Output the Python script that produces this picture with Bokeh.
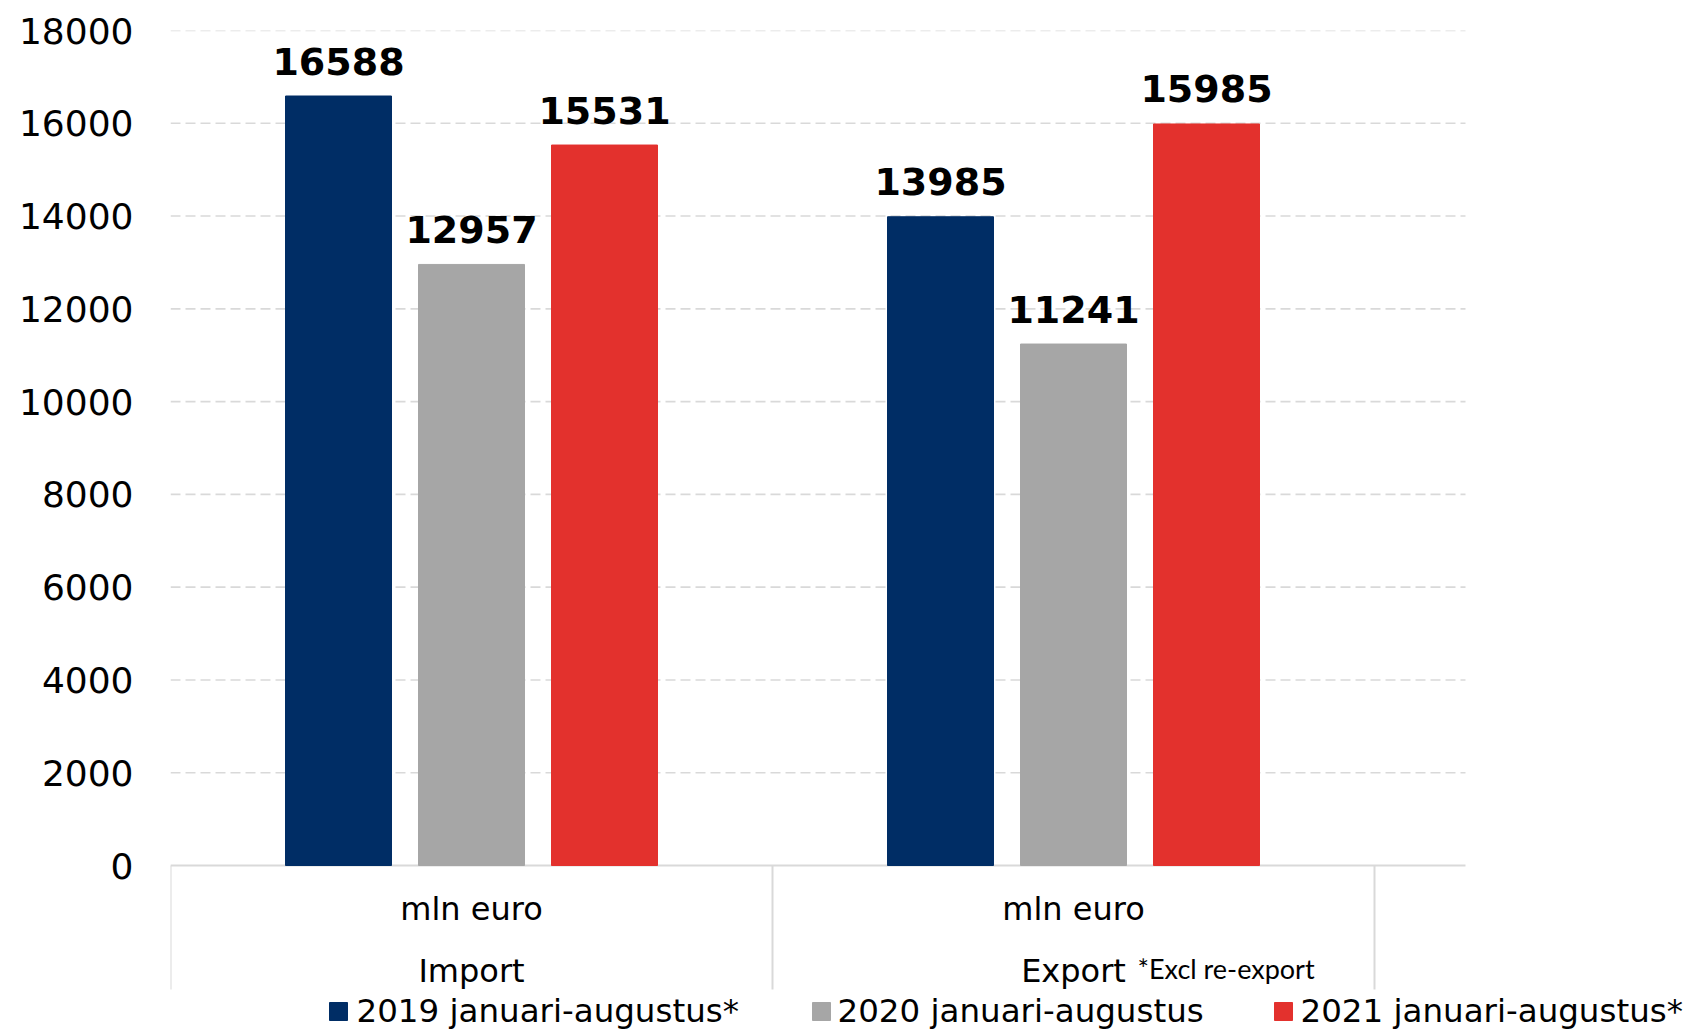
from bokeh.plotting import figure
from bokeh.models import Range1d, FixedTicker, ColumnDataSource
from bokeh.core.properties import value
from bokeh.embed import file_html
from bokeh.resources import INLINE

# ---- data ----
categories = ["Import", "Export"]
sub_label = "mln euro"
series_names = ["2019 januari-augustus*", "2020 januari-augustus", "2021 januari-augustus*"]
values_2019 = [16588, 13985]
values_2020 = [12957, 11241]
values_2021 = [15531, 15985]
y_ticks = [0, 2000, 4000, 6000, 8000, 10000, 12000, 14000, 16000, 18000]
footnote = "*Excl re-export"

series_values = [values_2019, values_2020, values_2021]
colors = ["#002D65", "#A6A6A6", "#E3312D"]

# ---- geometry (page pixels -> data) ----
W, H = 1686, 1030
LEFT, TOP = 170, 30              # figure px
PAGE_X0, PAGE_Y0 = 170, 865      # px of x=0 and y=0
PAGE_YTOP = 30                   # px of y=18000
CAT_PX = 602                     # px per category
frame_w = W - LEFT
frame_h = H - TOP
ypp = 18000 / (PAGE_Y0 - PAGE_YTOP)  # data units per px
y_start = 18000 - frame_h * ypp
x_end = frame_w / CAT_PX


def X(px):
    return (px - PAGE_X0) / CAT_PX


def Y(py):
    return -(py - PAGE_Y0) * ypp


p = figure(width=W, height=H, output_backend="svg", toolbar_location=None,
           x_axis_location=None, min_border_left=LEFT, min_border_top=TOP,
           min_border_right=0, min_border_bottom=0)
p.x_range = Range1d(0, x_end)
p.y_range = Range1d(y_start, 18000)
p.outline_line_color = None
p.xgrid.visible = False
p.ygrid.visible = False

ax = p.yaxis[0]
ax.ticker = FixedTicker(ticks=y_ticks)
ax.axis_line_color = None
ax.major_tick_line_color = None
ax.minor_tick_line_color = None
ax.major_tick_in = 0
ax.major_tick_out = 0
ax.major_label_standoff = 37
ax.major_label_text_font = "DejaVu Sans"
ax.major_label_text_font_size = "36px"
ax.major_label_text_color = "#000000"

grid_end = X(1465)
# gridlines
gl = [t for t in y_ticks if t > 0]
p.segment(x0=[0] * len(gl), y0=gl, x1=[grid_end] * len(gl), y1=gl,
          line_color="#D9D9D9", line_width=1.6, line_dash="10 5")
# axis line at 0
p.segment(x0=[0], y0=[0], x1=[grid_end], y1=[0], line_color="#D9D9D9", line_width=2)
# category separators
seps = list(range(len(categories) + 1))
p.segment(x0=seps, y0=[0] * len(seps), x1=seps, y1=[Y(989)] * len(seps),
          line_color="#D9D9D9", line_width=2)

# bars
offsets = [-133 / CAT_PX, 0, 133 / CAT_PX]
bw = 106 / CAT_PX
for i, (vals, col) in enumerate(zip(series_values, colors)):
    xs = [ci + 0.5 + offsets[i] for ci in range(len(categories))]
    src = ColumnDataSource(dict(x=xs, top=vals, lab=[str(v) for v in vals]))
    p.vbar(x="x", top="top", bottom=0, width=bw, source=src,
           fill_color=col, line_color=col)
    p.text(x="x", y="top", text="lab", source=src, y_offset=-35,
           text_align="center", text_baseline="middle",
           text_font=value("DejaVu Sans"), text_font_style="bold",
           text_font_size="38px", text_color="#000000")

# category labels
cx = [ci + 0.5 for ci in range(len(categories))]
p.text(x=cx, y=[Y(908)] * len(cx), text=[sub_label] * len(cx),
       text_align="center", text_baseline="middle",
       text_font=value("DejaVu Sans"), text_font_size="32px", text_color="#000000")
p.text(x=cx, y=[Y(970)] * len(cx), text=categories,
       text_align="center", text_baseline="middle",
       text_font=value("DejaVu Sans"), text_font_size="32px", text_color="#000000")
p.text(x=[X(1137)], y=[Y(968)], text=[footnote],
       text_align="left", text_baseline="middle",
       text_font=value("Lato"), text_font_size="27px", text_color="#000000")

# legend
sq_px = [338, 821, 1283]
tx_px = [356, 837, 1300]
p.scatter(x=[X(v) for v in sq_px], y=[Y(1011)] * 3, marker="square", size=18,
          fill_color=colors, line_color=colors)
p.text(x=[X(v) for v in tx_px], y=[Y(1010)] * 3, text=series_names,
       text_align="left", text_baseline="middle",
       text_font=value("DejaVu Sans"), text_font_size="32.5px", text_color="#000000")

open("out.html", "w").write(file_html(p, INLINE))
